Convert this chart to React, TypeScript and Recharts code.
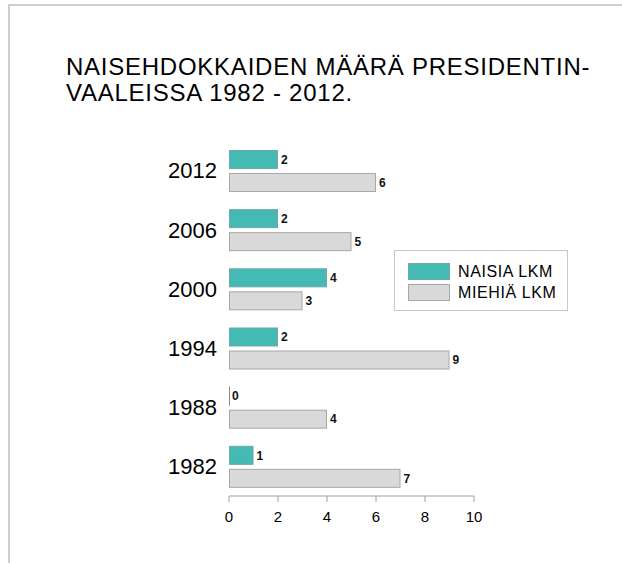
import React from 'react';
import { BarChart, Bar, XAxis, YAxis, LabelList, Legend } from 'recharts';

const years = ['2012', '2006', '2000', '1994', '1988', '1982'];
const naisia = [2, 2, 4, 2, 0, 1];
const miehia = [6, 5, 3, 9, 4, 7];
const xTicks = [0, 2, 4, 6, 8, 10];
const titleLines = ['NAISEHDOKKAIDEN MÄÄRÄ PRESIDENTIN-', 'VAALEISSA 1982 - 2012.'];
const seriesNames = ['NAISIA LKM', 'MIEHIÄ LKM'];

const data = years.map((y, i) => ({ year: y, naisia: naisia[i], miehia: miehia[i] }));

const TEAL = '#45B9B3';
const TEAL_STROKE = '#6FA8A5';
const GREY = '#D9D9D9';
const GREY_STROKE = '#A8A8A8';
const FONT = '"Liberation Sans", Arial, Helvetica, sans-serif';

const BarShape = (props: any) => {
  const { x, y, width, height, fill, stroke } = props;
  if (!width || width <= 0) {
    return <line x1={x + 0.5} x2={x + 0.5} y1={y} y2={y + height} stroke="#888" strokeWidth={1} />;
  }
  return <rect x={x + 0.5} y={y + 0.5} width={width - 1} height={height - 1} fill={fill} stroke={stroke} strokeWidth={1} />;
};

const LegendBox = () => (
  <div
    style={{
      position: 'absolute',
      left: 394,
      top: 250,
      width: 174,
      height: 61,
      border: '1px solid #C8C8C8',
      boxSizing: 'border-box',
      background: '#fff',
      fontFamily: FONT,
    }}
  >
    {seriesNames.map((n, i) => (
      <div key={n} style={{ position: 'absolute', left: 13, top: 12 + i * 21, height: 17, display: 'flex', alignItems: 'center' }}>
        <div
          style={{
            width: 42,
            height: 17,
            boxSizing: 'border-box',
            background: i === 0 ? TEAL : GREY,
            border: `1px solid ${i === 0 ? TEAL_STROKE : GREY_STROKE}`,
          }}
        />
        <span style={{ marginLeft: 8, fontSize: 16, letterSpacing: 0.6, color: '#000', lineHeight: '17px' }}>{n}</span>
      </div>
    ))}
  </div>
);

export default function App() {
  return (
    <div style={{ position: 'absolute', left: 0, top: 0, width: 622, height: 563, background: '#fff', overflow: 'hidden' }}>
      <div style={{ position: 'absolute', left: 8, top: 4, right: 0, height: 2, background: '#CFCFCF' }} />
      <div style={{ position: 'absolute', left: 8, top: 4, width: 2, bottom: 0, background: '#CFCFCF' }} />
      <div
        style={{
          position: 'absolute',
          left: 66,
          top: 54,
          fontFamily: FONT,
          fontSize: 24,
          letterSpacing: 0.75,
          lineHeight: '26px',
          color: '#000',
          whiteSpace: 'nowrap',
        }}
      >
        {titleLines.map((l) => (
          <div key={l}>{l}</div>
        ))}
      </div>
      <div style={{ position: 'absolute', left: 0, top: 0 }}>
        <BarChart
          width={622}
          height={563}
          data={data}
          layout="vertical"
          margin={{ top: 141, right: 148, bottom: 37, left: 169 }}
          barSize={19}
          barGap={4}
        >
          <XAxis
            type="number"
            domain={[0, 10]}
            ticks={xTicks}
            height={30}
            axisLine={{ stroke: '#A0A0A0' }}
            tickLine={{ stroke: '#A0A0A0' }}
            tickSize={6}
            tickMargin={9}
            tick={{ fontSize: 15, fill: '#000', fontFamily: FONT }}
            interval={0}
          />
          <YAxis
            type="category"
            dataKey="year"
            width={60}
            axisLine={false}
            tickLine={false}
            tickSize={6}
            tickMargin={6}
            tick={{ fontSize: 22, fill: '#000', fontFamily: FONT }}
            interval={0}
          />
          <Legend content={() => null} />
          <Bar dataKey="naisia" name={seriesNames[0]} fill={TEAL} stroke={TEAL_STROKE} shape={BarShape} isAnimationActive={false}>
            <LabelList dataKey="naisia" position="right" offset={3} style={{ fontSize: 12, fontWeight: 'bold', fill: '#111', fontFamily: FONT }} />
          </Bar>
          <Bar dataKey="miehia" name={seriesNames[1]} fill={GREY} stroke={GREY_STROKE} shape={BarShape} isAnimationActive={false}>
            <LabelList dataKey="miehia" position="right" offset={3} style={{ fontSize: 12, fontWeight: 'bold', fill: '#111', fontFamily: FONT }} />
          </Bar>
        </BarChart>
      </div>
      <LegendBox />
    </div>
  );
}
